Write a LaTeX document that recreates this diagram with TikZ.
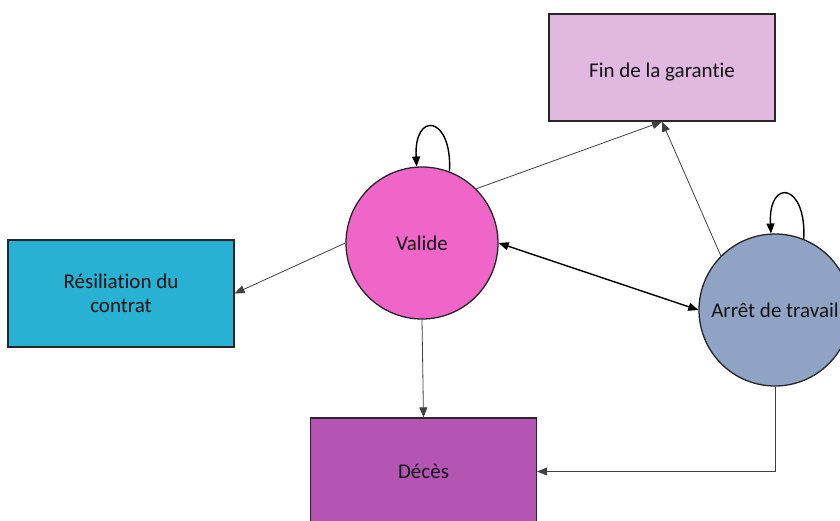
\documentclass[tikz,border=0pt]{standalone}
\usepackage{fontspec}
\setmainfont{Carlito}[Ligatures={NoCommon}]
\usetikzlibrary{arrows.meta}
\definecolor{finc}{HTML}{E0B8E0}
\definecolor{resc}{HTML}{28B1D2}
\definecolor{decc}{HTML}{B455B4}
\definecolor{valc}{HTML}{F066C8}
\definecolor{arrc}{HTML}{8FA3C4}
\definecolor{txtc}{HTML}{141414}
\definecolor{edgec}{HTML}{404040}
\begin{document}
\begin{tikzpicture}[x=1pt,y=-1pt,
  box/.style={draw=black!85,line width=1.3pt,minimum width=226pt,minimum height=107pt,inner sep=0pt,align=center,text=txtc,font=\fontsize{21}{24}\selectfont},
  state/.style={draw=black!85,line width=1.3pt,circle,minimum size=152pt,inner sep=0pt,align=center,text=txtc,font=\fontsize{21}{24}\selectfont},
  tip/.style={-{Triangle[length=10pt,width=8pt]}},
  thin edge/.style={tip,draw=edgec,line width=0.8pt},
  thick edge/.style={{Triangle[length=10pt,width=8pt]}-{Triangle[length=10pt,width=8pt]},draw=black,line width=1.4pt},
  loop edge/.style={tip,draw=black,line width=1.4pt}]
\useasboundingbox (0,0) rectangle (840,520);
\node[box,fill=finc] (fin) at (662,67.5) {\raisebox{-5pt}[\height][\depth]{Fin de la garantie}};
\node[box,fill=resc] (res) at (121,293.5) {Résiliation du\\contrat};
\node[box,fill=decc] (dec) at (423.5,471.5) {Décès};
\node[state,fill=valc] (val) at (422,243) {Valide};
\node[state,fill=arrc] (arr) at (775,310) {Arrêt de travail};
\draw[thin edge] (val.west) -- (res.east);
\draw[thin edge] (val.45) -- (fin.south);
\draw[thin edge] (arr.135) -- (fin.south);
\draw[thin edge] (val.south) -- (dec.north);
\draw[thin edge] (arr.south) |- (dec.east);
\draw[thick edge] (val.east) -- (arr.west);
\draw[loop edge] (val.69) .. controls +(3,-56) and +(-3,-56) .. (val.94);
\draw[loop edge] (arr.68) .. controls +(3,-56) and +(-3,-56) .. (arr.93);
\end{tikzpicture}
\end{document}
